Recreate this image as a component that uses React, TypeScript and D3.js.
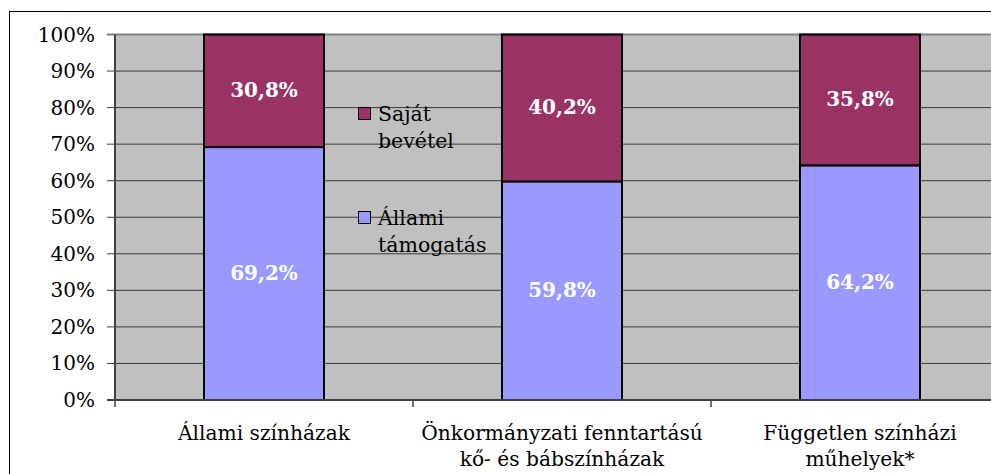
import React from "react";
import * as d3 from "d3";

const categories: string[][] = [
  ["Állami színházak"],
  ["Önkormányzati fenntartású", "kő- és bábszínházak"],
  ["Független színházi", "műhelyek*"],
];
const allamiTamogatas = [69.2, 59.8, 64.2];
const sajatBevetel = [30.8, 40.2, 35.8];
const yTicks = [0, 10, 20, 30, 40, 50, 60, 70, 80, 90, 100];
const seriesNames = ["Saját bevétel", "Állami támogatás"];

const W = 991;
const H = 474;
const left = 115;
const top = 34.5;
const bottom = 400;
const step = 298;
const right = left + step * categories.length;

const PURPLE = "#993366";
const BLUE = "#9999FF";
const GRAY = "#C0C0C0";
const FONT = "DejaVu Serif";

export default function App() {
  const keys = categories.map((_, i) => String(i));
  const p = 1 - 120 / step;
  const x = d3.scaleBand<string>().domain(keys).range([left, right]).paddingInner(p).paddingOuter(p / 2);
  const y = d3.scaleLinear().domain([0, 100]).range([bottom, top]);

  const stack = d3
    .stack<number>()
    .keys(["a", "s"])
    .value((i, k) => (k === "a" ? allamiTamogatas[i] : sajatBevetel[i]));
  const stacked = stack(categories.map((_, i) => i));
  const colors = [BLUE, PURPLE];

  return (
    <svg
      width={W}
      height={H}
      style={{ position: "absolute", left: 0, top: 0, fontFamily: FONT }}
    >
      <rect x={0} y={0} width={W} height={H} fill="#fff" />
      <rect x={9.5} y={11.5} width={1100} height={600} fill="#fff" stroke="#000" strokeWidth={1} />
      <rect x={left} y={top} width={right - left} height={bottom - top} fill={GRAY} />
      {yTicks.map((t) => (
        <line key={t} x1={left - 8} x2={right} y1={y(t)} y2={y(t)} stroke={t === 100 ? "#808080" : "#3a3a3a"} strokeWidth={t === 100 ? 2 : 1} />
      ))}
      {stacked.map((s, si) =>
        s.map((d, i) => (
          <rect
            key={si + "-" + i}
            x={x(keys[i])!}
            y={y(d[1])}
            width={x.bandwidth()}
            height={y(d[0]) - y(d[1])}
            fill={colors[si]}
            stroke="#000"
            strokeWidth={2}
          />
        ))
      )}
      <line x1={left} x2={left} y1={top} y2={bottom} stroke="#404040" strokeWidth={2} />
      <line x1={left - 8} x2={right} y1={bottom} y2={bottom} stroke="#404040" strokeWidth={2} />
      {d3.range(categories.length + 1).map((i) => (
        <line key={i} x1={left + i * step} x2={left + i * step} y1={bottom} y2={bottom + 7} stroke="#404040" strokeWidth={1.5} />
      ))}
      {yTicks.map((t) => (
        <text key={t} x={95} y={y(t)} dy="0.35em" textAnchor="end" fontSize={20} fill="#000">
          {t}%
        </text>
      ))}
      {stacked.map((s, si) =>
        s.map((d, i) => (
          <text
            key={"v" + si + "-" + i}
            x={x(keys[i])! + x.bandwidth() / 2}
            y={(y(d[0]) + y(d[1])) / 2}
            dy="0.32em"
            textAnchor="middle"
            fontSize={20}
            fontWeight="bold"
            fill="#fff"
          >
            {(si === 0 ? allamiTamogatas[i] : sajatBevetel[i]).toFixed(1).replace(".", ",")}%
          </text>
        ))
      )}
      {categories.map((lines, i) => (
        <text key={"c" + i} x={x(keys[i])! + x.bandwidth() / 2} y={440} textAnchor="middle" fontSize={20.2} fill="#000">
          {lines.map((l, li) => (
            <tspan key={li} x={x(keys[i])! + x.bandwidth() / 2} dy={li === 0 ? 0 : 26}>
              {l}
            </tspan>
          ))}
        </text>
      ))}
      {seriesNames.map((name, i) => {
        const words = name.split(" ");
        const by = i === 0 ? 121 : 225;
        return (
          <g key={name}>
            <rect x={358.5} y={by - 13.5} width={12} height={12} fill={i === 0 ? PURPLE : BLUE} stroke="#000" strokeWidth={1} />
            <text x={378} y={by} fontSize={20.5} fill="#000">
              {words.map((w, wi) => (
                <tspan key={wi} x={378} dy={wi === 0 ? 0 : 27}>
                  {w}
                </tspan>
              ))}
            </text>
          </g>
        );
      })}
    </svg>
  );
}
